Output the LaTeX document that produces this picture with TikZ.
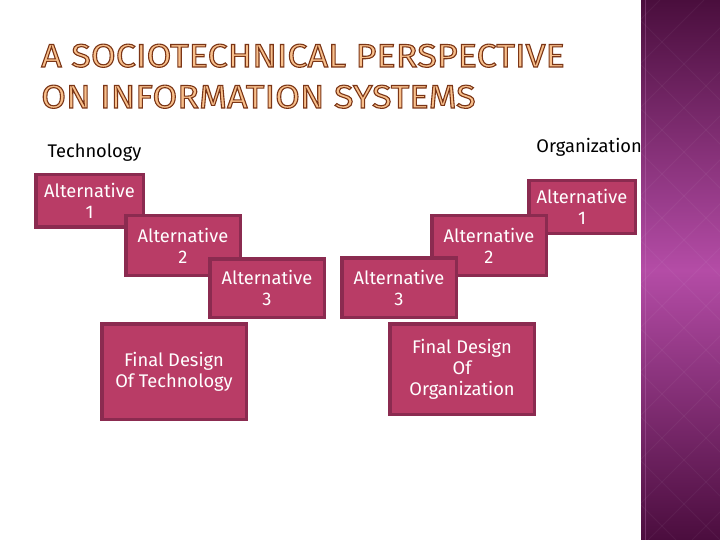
\documentclass[tikz,border=0pt]{standalone}
\usepackage{fontspec}
\setmainfont{Fira Sans}
\newfontfamily\ttlfont[FakeStretch=1.10]{Fira Sans}
\usetikzlibrary{calc}
\definecolor{fillc}{HTML}{B93C66}
\definecolor{bord}{HTML}{8B2B50}
\definecolor{tfill}{HTML}{F8C08C}
\definecolor{outl}{HTML}{7B3516}
\definecolor{pTop}{HTML}{4A0E3D}
\definecolor{pMid}{HTML}{B44CA6}
\definecolor{pBot}{HTML}{4B0D3E}
\tikzset{
  altbox/.style={draw=bord, fill=fillc, line width=3.5pt, text=white, align=center,
    inner sep=0pt, font=\fontsize{18.3}{21}\selectfont},
  titletext/.style={font=\ttlfont\fontsize{32.7}{32.7}\selectfont, inner sep=0pt, anchor=base west, text=tfill},
  sidelabel/.style={font=\fontsize{18.3}{20}\selectfont, text=black, inner sep=0pt}
}
\newcommand\strokedtext[1]{%
  \special{pdf:literal direct 0.482 0.208 0.086 RG 2 Tr 1.1 w}#1\special{pdf:literal direct 0 Tr}}
\begin{document}
\begin{tikzpicture}[x=1pt,y=-1pt]
\useasboundingbox (0,0) rectangle (720,540);
\fill[white] (0,0) rectangle (720,540);

% title
\node[titletext] (title1) at (41,67) {\strokedtext{A SOCIOTECHNICAL PERSPECTIVE}};
\node[titletext] (title2) at (41,108) {\strokedtext{ON INFORMATION SYSTEMS}};

% labels
\node[sidelabel] (tech) at (94.5,153) {Technology};
\node[sidelabel, anchor=east] (org) at (642,147) {Organization};

% technology side
\node[altbox, minimum width=107.5, minimum height=52.5] (t1) at (89.5,201) {Alternative\\1};
\node[altbox, minimum width=114.5, minimum height=59.5] (t2) at (183,245.5) {Alternative\\2};
\node[altbox, minimum width=114.5, minimum height=58.5] (t3) at (267,288) {Alternative\\3};
\node[altbox, minimum width=144.5, minimum height=95.5] (tf) at (174,371.5) {Final Design\\Of Technology};

% organization side
\node[altbox, minimum width=106.5, minimum height=52.5] (o1) at (582,207) {Alternative\\1};
\node[altbox, minimum width=114.5, minimum height=59.5] (o2) at (489,245.5) {Alternative\\2};
\node[altbox, minimum width=114.5, minimum height=59.5] (o3) at (399,287.5) {Alternative\\3};
\node[altbox, minimum width=144.5, minimum height=90.5] (of) at (462,369) {Final Design\\Of\\Organization};

% side panel
\shade[top color=pTop, bottom color=pBot, middle color=pMid] (641,0) rectangle (720,540);
\begin{scope}
  \clip (641,0) rectangle (720,540);
  \foreach \k in {0,44,...,1320} {
    \draw[white, opacity=0.045, line width=0.8pt] (\k,0) -- (\k-540,540);
    \draw[white, opacity=0.045, line width=0.8pt] (\k-700,0) -- (\k-160,540);
  }
\end{scope}
\draw[pMid!70!white, opacity=0.3, line width=1pt] (645,0) -- (645,540);
\end{tikzpicture}
\end{document}
